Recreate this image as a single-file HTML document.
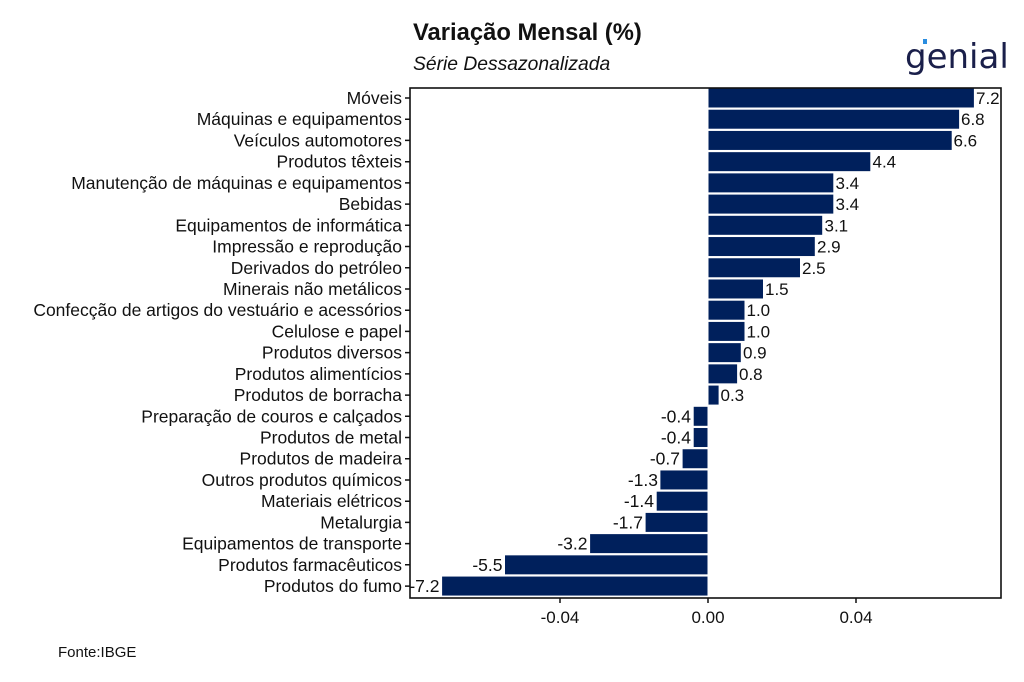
<!DOCTYPE html>
<html><head><meta charset="utf-8"><style>
body{margin:0;background:#fff;}
svg{display:block;font-family:"Liberation Sans",Arial,sans-serif;}
</style></head><body>
<svg width="1024" height="682" xmlns="http://www.w3.org/2000/svg">
<text x="413" y="40" font-size="23.8" font-weight="bold" fill="#111">Variação Mensal (%)</text>
<text x="413" y="70" font-size="19.3" font-style="italic" fill="#111">Série Dessazonalizada</text>
<text x="905" y="68" font-size="34" fill="#1a1f4a" font-family="'DejaVu Sans',sans-serif">genial</text>
<rect x="923" y="39" width="4" height="5" fill="#2a8de0"/>
<text x="58" y="657" font-size="15" fill="#111">Fonte:IBGE</text>
<g fill="#00205c" stroke="#fff" stroke-width="1">
<rect x="708" y="88" width="266.4" height="20"/>
<rect x="708" y="109.22" width="251.6" height="20"/>
<rect x="708" y="130.44" width="244.2" height="20"/>
<rect x="708" y="151.66" width="162.8" height="20"/>
<rect x="708" y="172.88" width="125.8" height="20"/>
<rect x="708" y="194.1" width="125.8" height="20"/>
<rect x="708" y="215.32" width="114.7" height="20"/>
<rect x="708" y="236.54" width="107.3" height="20"/>
<rect x="708" y="257.76" width="92.5" height="20"/>
<rect x="708" y="278.98" width="55.5" height="20"/>
<rect x="708" y="300.2" width="37" height="20"/>
<rect x="708" y="321.42" width="37" height="20"/>
<rect x="708" y="342.64" width="33.3" height="20"/>
<rect x="708" y="363.86" width="29.6" height="20"/>
<rect x="708" y="385.08" width="11.1" height="20"/>
<rect x="693.2" y="406.3" width="14.8" height="20"/>
<rect x="693.2" y="427.52" width="14.8" height="20"/>
<rect x="682.1" y="448.74" width="25.9" height="20"/>
<rect x="659.9" y="469.96" width="48.1" height="20"/>
<rect x="656.2" y="491.18" width="51.8" height="20"/>
<rect x="645.1" y="512.4" width="62.9" height="20"/>
<rect x="589.6" y="533.62" width="118.4" height="20"/>
<rect x="504.5" y="554.84" width="203.5" height="20"/>
<rect x="441.6" y="576.06" width="266.4" height="20"/>
</g>
<g font-size="17.5" fill="#111" text-anchor="end">
<text x="402" y="104">Móveis</text>
<text x="402" y="125.2">Máquinas e equipamentos</text>
<text x="402" y="146.4">Veículos automotores</text>
<text x="402" y="167.7">Produtos têxteis</text>
<text x="402" y="188.9">Manutenção de máquinas e equipamentos</text>
<text x="402" y="210.1">Bebidas</text>
<text x="402" y="231.3">Equipamentos de informática</text>
<text x="402" y="252.5">Impressão e reprodução</text>
<text x="402" y="273.8">Derivados do petróleo</text>
<text x="402" y="295">Minerais não metálicos</text>
<text x="402" y="316.2">Confecção de artigos do vestuário e acessórios</text>
<text x="402" y="337.4">Celulose e papel</text>
<text x="402" y="358.6">Produtos diversos</text>
<text x="402" y="379.9">Produtos alimentícios</text>
<text x="402" y="401.1">Produtos de borracha</text>
<text x="402" y="422.3">Preparação de couros e calçados</text>
<text x="402" y="443.5">Produtos de metal</text>
<text x="402" y="464.7">Produtos de madeira</text>
<text x="402" y="486">Outros produtos químicos</text>
<text x="402" y="507.2">Materiais elétricos</text>
<text x="402" y="528.4">Metalurgia</text>
<text x="402" y="549.6">Equipamentos de transporte</text>
<text x="402" y="570.8">Produtos farmacêuticos</text>
<text x="402" y="592.1">Produtos do fumo</text>
<text x="691" y="422.3">-0.4</text>
<text x="691" y="443.5">-0.4</text>
<text x="680" y="464.7">-0.7</text>
<text x="658" y="486">-1.3</text>
<text x="654" y="507.2">-1.4</text>
<text x="643" y="528.4">-1.7</text>
<text x="587.5" y="549.6">-3.2</text>
<text x="502.5" y="570.8">-5.5</text>
<text x="439.5" y="592.1">-7.2</text>
</g>
<g font-size="17" fill="#111">
<text x="976" y="104">7.2</text>
<text x="961" y="125.2">6.8</text>
<text x="953.5" y="146.4">6.6</text>
<text x="872.5" y="167.7">4.4</text>
<text x="835.5" y="188.9">3.4</text>
<text x="835.5" y="210.1">3.4</text>
<text x="824.5" y="231.3">3.1</text>
<text x="817" y="252.5">2.9</text>
<text x="802" y="273.8">2.5</text>
<text x="765" y="295">1.5</text>
<text x="746.5" y="316.2">1.0</text>
<text x="746.5" y="337.4">1.0</text>
<text x="743" y="358.6">0.9</text>
<text x="739" y="379.9">0.8</text>
<text x="720.5" y="401.1">0.3</text>
</g>
<g stroke="#111" stroke-width="1.5">
<path d="M405 98h5M405 119.2h5M405 140.4h5M405 161.7h5M405 182.9h5M405 204.1h5M405 225.3h5M405 246.5h5M405 267.8h5M405 289h5M405 310.2h5M405 331.4h5M405 352.6h5M405 373.9h5M405 395.1h5M405 416.3h5M405 437.5h5M405 458.7h5M405 480h5M405 501.2h5M405 522.4h5M405 543.6h5M405 564.8h5M405 586.1h5"/>
<path d="M560 598v5M708 598v5M856 598v5"/>
</g>
<rect x="410" y="88" width="591" height="510" fill="none" stroke="#111" stroke-width="1.6"/>
<g font-size="17" fill="#111" text-anchor="middle">
<text x="560" y="623">-0.04</text><text x="708" y="623">0.00</text><text x="856" y="623">0.04</text>
</g>
</svg>
</body></html>
